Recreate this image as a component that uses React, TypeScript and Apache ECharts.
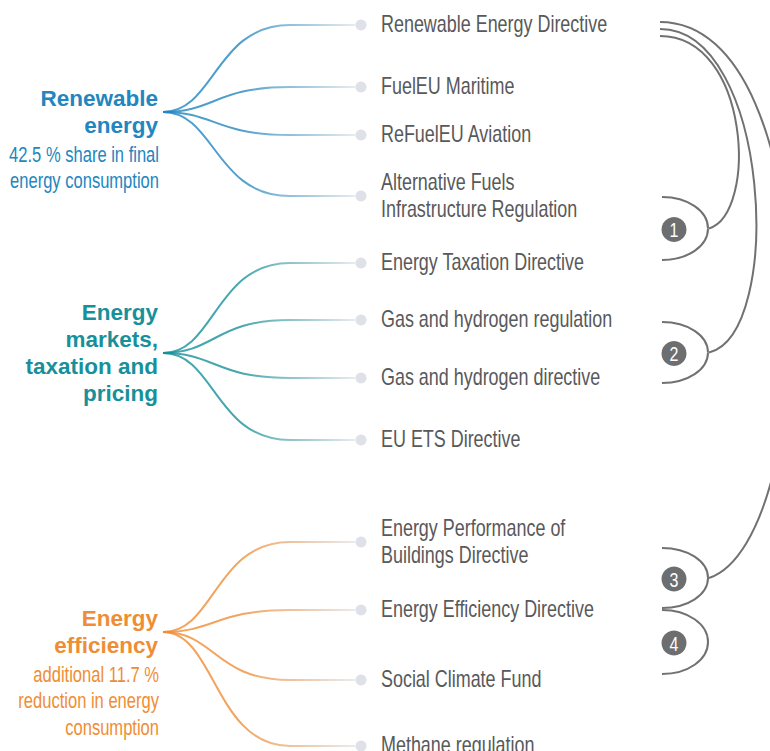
import React, { useEffect, useRef } from "react";
import * as echarts from "echarts";

// ---------- data ----------
const groupTitles = ["Renewable\nenergy", "Energy\nmarkets,\ntaxation and\npricing", "Energy\nefficiency"];
const groupNotes = ["42.5 % share in final\nenergy consumption", "", "additional 11.7 %\nreduction in energy\nconsumption"];
const groupRows = [112, 353, 632];

const measures = [
  "Renewable Energy Directive",
  "FuelEU Maritime",
  "ReFuelEU Aviation",
  "Alternative Fuels\nInfrastructure Regulation",
  "Energy Taxation Directive",
  "Gas and hydrogen regulation",
  "Gas and hydrogen directive",
  "EU ETS Directive",
  "Energy Performance of\nBuildings Directive",
  "Energy Efficiency Directive",
  "Social Climate Fund",
  "Methane regulation",
];
const measureGroup = [0, 0, 0, 0, 1, 1, 1, 1, 2, 2, 2, 2];
const measureRows = [25, 87, 135, 196, 263, 320, 378, 440, 542, 610, 680, 746];

const bracketLabels = ["1", "2", "3", "4"];
const bracketTopRows = [197, 322, 548, 610];
const bracketBottomRows = [260, 383, 608, 674];
// brackets that the Renewable Energy Directive is linked to
const directiveLinks = [0, 1, 2];

// ---------- styles / layout ----------
const groupColors = ["#2286c0", "#17909a", "#ef8d34"];
const FONT = "'Liberation Sans', Arial, sans-serif";
const ROOT_X = 163;
const LEAF_X = 361;
const LABEL_X = 381;
const TITLE_X = 158;
const BEND_END_X = 290;
const BEND_CP_X = 215;
const BRACKET_X = 662;
const BRACKET_TIP_X = 708;
const BADGE_X = 674;
const GREY = "#717171";
const arcStartDy = [11, 4, -3];
const arcCp1X = [750, 770, 830];
const arcCp2X = [758, 785, 822];
const arcCp2Dy = [-15, -19, -38];

export default function App() {
  const ref = useRef<HTMLDivElement>(null);

  useEffect(() => {
    if (!ref.current) return;
    const chart = echarts.init(ref.current, null, { renderer: "svg" });

    const linkData = measures.map((_, i) => [groupRows[measureGroup[i]], measureRows[i], measureGroup[i]]);
    const bracketData = bracketLabels.map((_, i) => [bracketTopRows[i], bracketBottomRows[i], i]);
    const arcData = directiveLinks.map((b, k) => [measureRows[0], b, k]);

    const option: any = {
      animation: false,
      grid: { left: 0, right: 0, top: 0, bottom: 0 },
      xAxis: { type: "value", min: 0, max: 770, show: false },
      yAxis: { type: "value", min: 0, max: 751, inverse: true, show: false },
      series: [
        // links from policy areas to measures
        {
          type: "custom",
          silent: true,
          data: linkData,
          renderItem: (params: any, api: any) => {
            const g = api.value(2);
            const p0 = api.coord([ROOT_X, api.value(0)]);
            const pb = api.coord([BEND_END_X, api.value(1)]);
            const p1 = api.coord([LEAF_X - 6, api.value(1)]);
            const cpx = api.coord([BEND_CP_X, 0])[0];
            const grad = new echarts.graphic.LinearGradient(
              p0[0], 0, p1[0], 0,
              [
                { offset: 0, color: groupColors[g] },
                { offset: 0.4, color: groupColors[g] },
                { offset: 1, color: "#e2e5ea" },
              ],
              true
            );
            return {
              type: "group",
              children: [
                {
                  type: "bezierCurve",
                  shape: {
                    x1: p0[0], y1: p0[1], x2: pb[0], y2: pb[1],
                    cpx1: cpx, cpy1: p0[1], cpx2: cpx, cpy2: pb[1],
                  },
                  style: { stroke: grad, lineWidth: 2, fill: "none", opacity: 0.8 },
                },
                {
                  type: "line",
                  shape: { x1: pb[0], y1: pb[1], x2: p1[0], y2: p1[1] },
                  style: { stroke: grad, lineWidth: 2, opacity: 0.8 },
                },
              ],
            };
          },
        },
        // arcs from the Renewable Energy Directive to brackets
        {
          type: "custom",
          silent: true,
          data: arcData,
          renderItem: (params: any, api: any) => {
            const k = api.value(2);
            const b = api.value(1);
            const start = api.coord([BRACKET_X - 2, api.value(0) + arcStartDy[k]]);
            const tipRow = (bracketTopRows[b] + bracketBottomRows[b]) / 2;
            const tip = api.coord([BRACKET_TIP_X + 1, tipRow]);
            const c1 = api.coord([arcCp1X[k], api.value(0) + arcStartDy[k]]);
            const c2 = api.coord([arcCp2X[k], tipRow + arcCp2Dy[k]]);
            return {
              type: "bezierCurve",
              shape: {
                x1: start[0], y1: start[1], x2: tip[0], y2: tip[1],
                cpx1: c1[0], cpy1: c1[1], cpx2: c2[0], cpy2: c2[1],
              },
              style: { stroke: GREY, lineWidth: 2, fill: "none" },
            };
          },
        },
        // numbered brackets
        {
          type: "custom",
          silent: true,
          data: bracketData,
          renderItem: (params: any, api: any) => {
            const idx = api.value(2);
            const top = api.coord([BRACKET_X, api.value(0)]);
            const bot = api.coord([BRACKET_X, api.value(1)]);
            const tipX = api.coord([BRACKET_TIP_X, 0])[0];
            const badgeX = api.coord([BADGE_X, 0])[0];
            const midY = (top[1] + bot[1]) / 2;
            const rx = tipX - top[0];
            const ryT = midY - top[1];
            const ryB = bot[1] - midY;
            const k = 0.56;
            return {
              type: "group",
              children: [
                {
                  type: "bezierCurve",
                  shape: {
                    x1: top[0], y1: top[1], x2: tipX, y2: midY,
                    cpx1: top[0] + k * rx, cpy1: top[1], cpx2: tipX, cpy2: midY - k * ryT,
                  },
                  style: { stroke: GREY, lineWidth: 2, fill: "none" },
                },
                {
                  type: "bezierCurve",
                  shape: {
                    x1: tipX, y1: midY, x2: bot[0], y2: bot[1],
                    cpx1: tipX, cpy1: midY + k * ryB, cpx2: bot[0] + k * rx, cpy2: bot[1],
                  },
                  style: { stroke: GREY, lineWidth: 2, fill: "none" },
                },
                {
                  type: "circle",
                  shape: { cx: badgeX, cy: midY + 1, r: 12.5 },
                  style: { fill: "#6d6e70" },
                },
                {
                  type: "text",
                  x: badgeX,
                  y: midY + 2,
                  scaleX: 0.8,
                  style: {
                    text: bracketLabels[idx],
                    x: 0,
                    y: 0,
                    align: "center",
                    verticalAlign: "middle",
                    fill: "#ffffff",
                    fontSize: 20,
                    fontFamily: FONT,
                  },
                },
              ],
            };
          },
        },
        // measure dots
        {
          type: "scatter",
          silent: true,
          symbolSize: 11,
          itemStyle: { color: "#d6dae1" },
          data: measures.map((_, i) => [LEAF_X, measureRows[i]]),
        },
        // measure labels (condensed)
        {
          type: "custom",
          silent: true,
          data: measures.map((_, i) => [LABEL_X, measureRows[i], i]),
          renderItem: (params: any, api: any) => {
            const i = api.value(2);
            const p = api.coord([api.value(0), api.value(1)]);
            return {
              type: "text",
              x: p[0],
              y: p[1] - 1,
              scaleX: 0.78,
              style: {
                text: measures[i],
                x: 0,
                y: 0,
                align: "left",
                verticalAlign: "middle",
                fill: "#58595b",
                fontSize: 23,
                lineHeight: 27,
                fontFamily: FONT,
              },
            };
          },
        },
        // policy area titles and notes
        {
          type: "custom",
          silent: true,
          data: groupRows.map((r, i) => [TITLE_X, r, i]),
          renderItem: (params: any, api: any) => {
            const i = api.value(2);
            const p = api.coord([api.value(0), api.value(1)]);
            const children: any[] = [
              {
                type: "text",
                x: p[0],
                y: p[1],
                style: {
                  text: groupTitles[i],
                  x: 0,
                  y: 0,
                  align: "right",
                  verticalAlign: "middle",
                  fill: groupColors[i],
                  fontSize: 22.5,
                  fontWeight: "bold",
                  lineHeight: 27,
                  fontFamily: FONT,
                },
              },
            ];
            if (groupNotes[i]) {
              children.push({
                type: "text",
                x: p[0] + 1,
                y: p[1] + 29,
                scaleX: 0.77,
                style: {
                  text: groupNotes[i],
                  x: 0,
                  y: 0,
                  align: "right",
                  verticalAlign: "top",
                  fill: groupColors[i],
                  fontSize: 21.5,
                  lineHeight: 26.5,
                  fontFamily: FONT,
                },
              });
            }
            return { type: "group", children };
          },
        },
      ],
    };

    chart.setOption(option);
    return () => chart.dispose();
  }, []);

  return (
    <div
      ref={ref}
      style={{ position: "fixed", left: 0, top: 0, width: 770, height: 751, background: "#ffffff" }}
    />
  );
}
